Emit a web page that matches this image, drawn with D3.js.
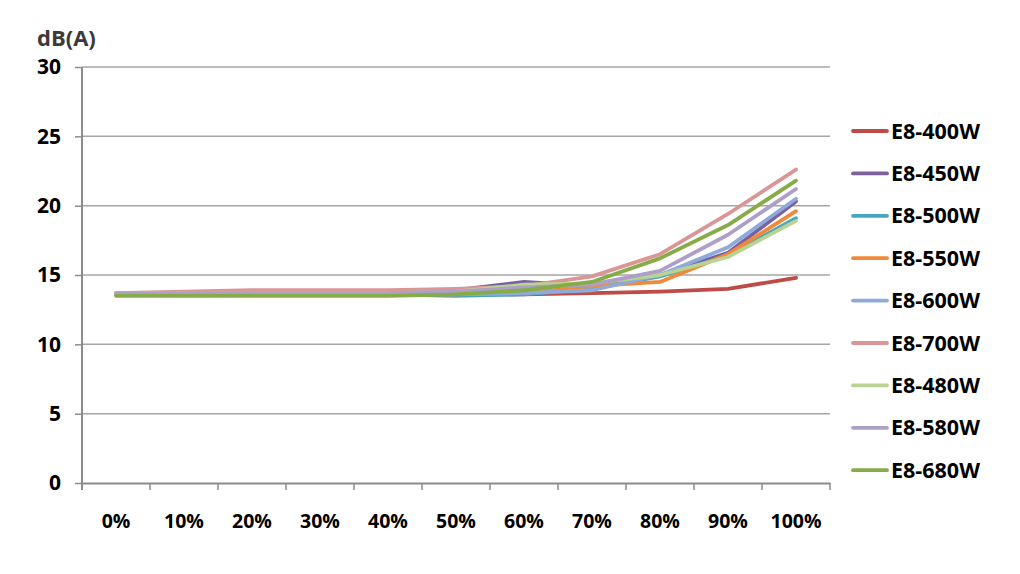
<!DOCTYPE html>
<html lang="en">
<head>
    <meta charset="UTF-8">
    <title>dB(A)</title>
    <script src="https://cdn.jsdelivr.net/npm/d3@7/dist/d3.min.js"></script>
    <style>
        body { margin: 0; background: #fff; overflow: hidden; }
        #mainsvg { display: block; }
        text { font-family: "Open Sans", "Noto Sans", sans-serif; font-weight: bold; }
    </style>
</head>
<body>
    <svg width="1020" height="574" id="mainsvg"></svg>
    <script>
        const categories = ["0%","10%","20%","30%","40%","50%","60%","70%","80%","90%","100%"]
        const seriesNames = ["E8-400W","E8-450W","E8-500W","E8-550W","E8-600W","E8-700W","E8-480W","E8-580W","E8-680W"]
        const seriesColors = ["#BE4B48","#7D60A0","#46A5C0","#F08A3A","#8EAADB","#D99694","#B9D393","#AE9FC8","#86AC48"]
        const e8_400 = [13.6,13.6,13.6,13.6,13.6,13.6,13.6,13.7,13.8,14.0,14.8]
        const e8_450 = [13.6,13.7,13.7,13.7,13.7,13.9,14.5,14.2,15.0,16.6,20.3]
        const e8_500 = [13.6,13.6,13.6,13.6,13.6,13.5,13.6,14.0,14.9,16.4,19.1]
        const e8_550 = [13.6,13.6,13.6,13.6,13.6,13.6,13.7,14.2,14.5,16.5,19.6]
        const e8_600 = [13.6,13.6,13.6,13.6,13.6,13.6,13.7,13.9,15.0,17.0,20.5]
        const e8_700 = [13.7,13.8,13.9,13.9,13.9,14.0,14.2,14.9,16.5,19.4,22.6]
        const e8_480 = [13.7,13.7,13.7,13.7,13.7,13.8,14.3,14.4,15.0,16.3,18.9]
        const e8_580 = [13.7,13.7,13.7,13.7,13.7,13.8,14.1,14.3,15.3,17.9,21.2]
        const e8_680 = [13.5,13.5,13.5,13.5,13.5,13.6,13.9,14.5,16.2,18.6,21.8]
        const yTicks = [0,5,10,15,20,25,30]

        const allValues = [e8_400,e8_450,e8_500,e8_550,e8_600,e8_700,e8_480,e8_580,e8_680]
        const series = seriesNames.map((name, i) => ({name: name, color: seriesColors[i], values: allValues[i]}))

        let svg = d3.select('svg');
        const margin = {top: 67, right: 190, bottom: 91, left: 82};
        const width = +svg.attr('width');
        const height = +svg.attr('height');
        const innerWidth = 830 - margin.left;
        const innerHeight = height - margin.top - margin.bottom;

        const x = d3.scaleBand().domain(categories).range([0, innerWidth]).padding(0)
        const y = d3.scaleLinear().domain([0, 30]).range([innerHeight, 0])

        const g = svg.append('g').attr('transform', `translate(${margin.left}, ${margin.top})`)

        // gridlines
        g.append('g').selectAll('line').data(yTicks.filter(d => d > 0)).join('line')
            .attr('x1', 0).attr('x2', innerWidth)
            .attr('y1', d => y(d)).attr('y2', d => y(d))
            .attr('stroke', '#A6A6A6').attr('stroke-width', 1.5)

        // y axis
        const yAxis = g.append('g').call(d3.axisLeft(y).tickValues(yTicks).tickSize(7).tickPadding(14))
        yAxis.select('.domain').attr('stroke', '#8C8C8C').attr('stroke-width', 2)
            .attr('d', `M0,0V${innerHeight + 7}`)
        yAxis.selectAll('.tick line').attr('stroke', '#8C8C8C').attr('stroke-width', 1.5)
        yAxis.selectAll('.tick text').attr('font-size', 21).attr('fill', '#000')
            .style('font-family', '"Open Sans", sans-serif')

        // x axis
        const xAxis = g.append('g').attr('transform', `translate(0, ${innerHeight})`)
            .call(d3.axisBottom(x).tickSize(0).tickPadding(31))
        xAxis.select('.domain').attr('stroke', '#8C8C8C').attr('stroke-width', 2)
        xAxis.selectAll('.tick text').attr('font-size', 19.5).attr('fill', '#000')
            .style('font-family', '"Open Sans", sans-serif')
        // tick marks between categories
        xAxis.append('g').selectAll('line').data(d3.range(categories.length + 1)).join('line')
            .attr('x1', i => i * x.bandwidth()).attr('x2', i => i * x.bandwidth())
            .attr('y1', 0).attr('y2', 7)
            .attr('stroke', '#8C8C8C').attr('stroke-width', 1.5)

        // lines
        const line = d3.line()
            .x((d, i) => x(categories[i]) + x.bandwidth() / 2)
            .y(d => y(d))

        g.append('g').selectAll('path').data(series).join('path')
            .attr('fill', 'none')
            .attr('stroke', d => d.color)
            .attr('stroke-width', 3.8)
            .attr('stroke-linejoin', 'round')
            .attr('stroke-linecap', 'round')
            .attr('d', d => line(d.values))

        // unit label
        svg.append('text').attr('x', 37).attr('y', 46)
            .attr('font-size', 22).attr('fill', '#3A3A3A').text('dB(A)')

        // legend
        const legend = svg.append('g').attr('transform', 'translate(853, 131)')
        const rows = legend.selectAll('g').data(series).join('g')
            .attr('transform', (d, i) => `translate(0, ${i * 42.4})`)
        rows.append('line').attr('x1', 0).attr('x2', 34).attr('y1', 0).attr('y2', 0)
            .attr('stroke', d => d.color).attr('stroke-width', 3.8).attr('stroke-linecap', 'round')
        rows.append('text').attr('x', 38).attr('y', 7.5)
            .attr('font-size', 21.5).attr('fill', '#000').text(d => d.name)
    </script>
</body>
</html>
